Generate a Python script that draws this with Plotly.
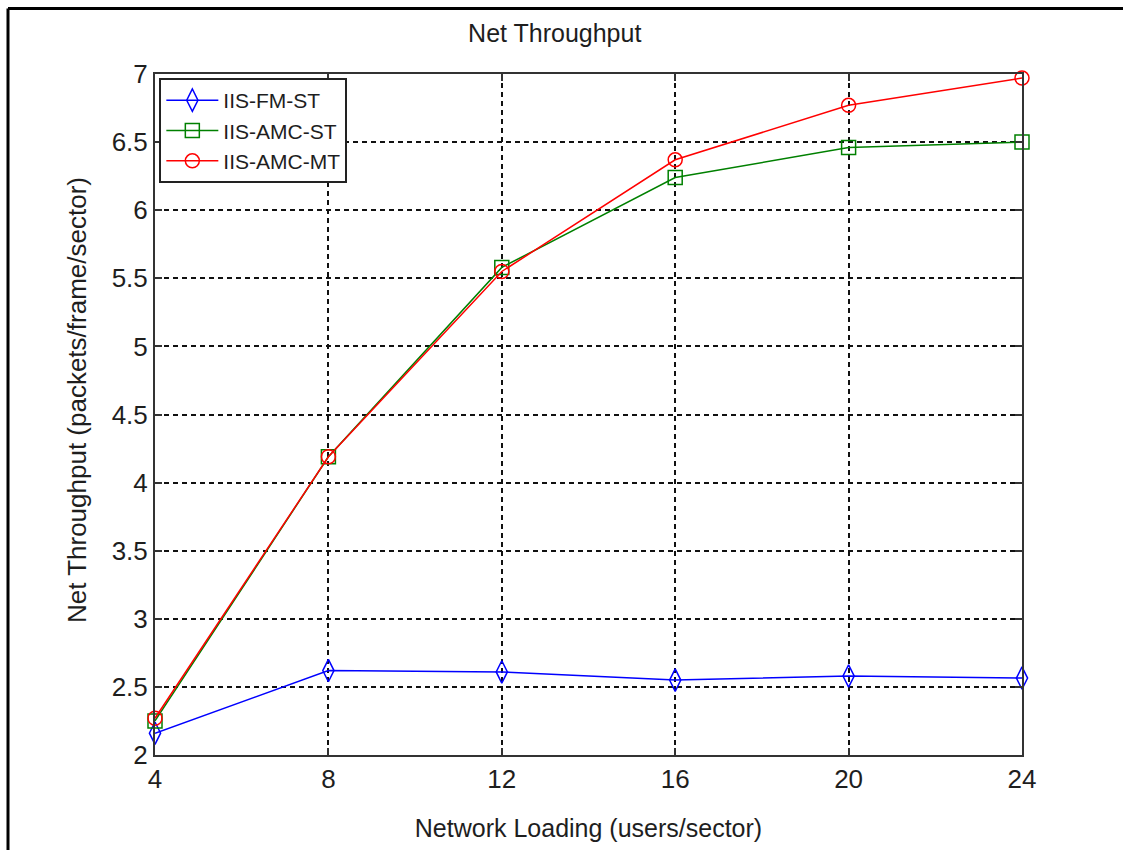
import plotly.graph_objects as go

# Network loading (users/sector)
loading = [4, 8, 12, 16, 20, 24]

# Net throughput (packets/frame/sector) per scheme
fm_st = [2.16, 2.62, 2.61, 2.55, 2.58, 2.565]
amc_st = [2.25, 4.19, 5.58, 6.24, 6.46, 6.50]
amc_mt = [2.27, 4.19, 5.55, 6.37, 6.77, 6.97]

series_names = ["IIS-FM-ST", "IIS-AMC-ST", "IIS-AMC-MT"]
x_ticks = [4, 8, 12, 16, 20, 24]
y_ticks = [2, 2.5, 3, 3.5, 4, 4.5, 5, 5.5, 6, 6.5, 7]
y_tick_text = ["2", "2.5", "3", "3.5", "4", "4.5", "5", "5.5", "6", "6.5", "7"]

FONT = "Liberation Sans, Arial, sans-serif"
TXT = "#1e1e1e"

fig = go.Figure()

styles = [
    (fm_st, "#0000ff", "diamond-tall-open", 16),
    (amc_st, "#008000", "square-open", 14),
    (amc_mt, "#ff0000", "circle-open", 14),
]
for name, (vals, col, sym, sz) in zip(series_names, styles):
    fig.add_trace(go.Scatter(
        x=loading, y=vals, name=name, mode="lines+markers",
        line=dict(color=col, width=1.5),
        marker=dict(symbol=sym, size=sz, color=col, line=dict(color=col, width=1.5)),
        cliponaxis=False,
    ))

axis_common = dict(
    showline=True, linecolor="#333333", linewidth=2, mirror="ticks",
    ticks="inside", ticklen=7, tickwidth=2, tickcolor="#333333",
    showgrid=True, gridcolor="#111111", gridwidth=2, griddash="5px,4px",
    zeroline=False,
    tickfont=dict(family=FONT, size=26, color=TXT),
)

fig.update_xaxes(
    range=[4, 24], tickvals=x_ticks,
    title=dict(text="Network Loading (users/sector)", font=dict(family=FONT, size=25, color=TXT), standoff=26),
    **axis_common,
)
fig.update_yaxes(range=[2, 7], tickvals=y_ticks, ticktext=y_tick_text, **axis_common)

# y-axis label placed as a rotated annotation
fig.add_annotation(
    text="Net Throughput (packets/frame/sector)", textangle=-90,
    xref="paper", yref="paper", x=(77 - 155) / 867, y=(759 - 402) / 685,
    xanchor="center", yanchor="middle", showarrow=False,
    font=dict(family=FONT, size=26, color=TXT),
)

# Figure frame lines along the left and top edges
frame = dict(color="#000000", width=3)
x0 = (8 - 155) / 867
y_top = (759 - 8) / 685
fig.add_shape(type="line", xref="paper", yref="paper", x0=x0, x1=x0, y0=-2, y1=y_top, line=frame)
fig.add_shape(type="line", xref="paper", yref="paper", x0=x0, x1=2, y0=y_top, y1=y_top, line=frame)

fig.update_layout(
    width=1123, height=850,
    margin=dict(l=155, r=101, t=74, b=91),
    paper_bgcolor="white", plot_bgcolor="white",
    title=dict(text="Net Throughput", x=0.494, xanchor="center", y=1 - 33 / 850, yanchor="middle",
               font=dict(family=FONT, size=25, color=TXT)),
    legend=dict(
        x=0.005, y=0.994, xanchor="left", yanchor="top",
        bgcolor="white", bordercolor="#222222", borderwidth=2,
        font=dict(family=FONT, size=21, color=TXT),
        tracegroupgap=0, itemwidth=52, entrywidth=200, entrywidthmode="pixels",
    ),
    showlegend=True,
)

fig.write_html("out.html")
